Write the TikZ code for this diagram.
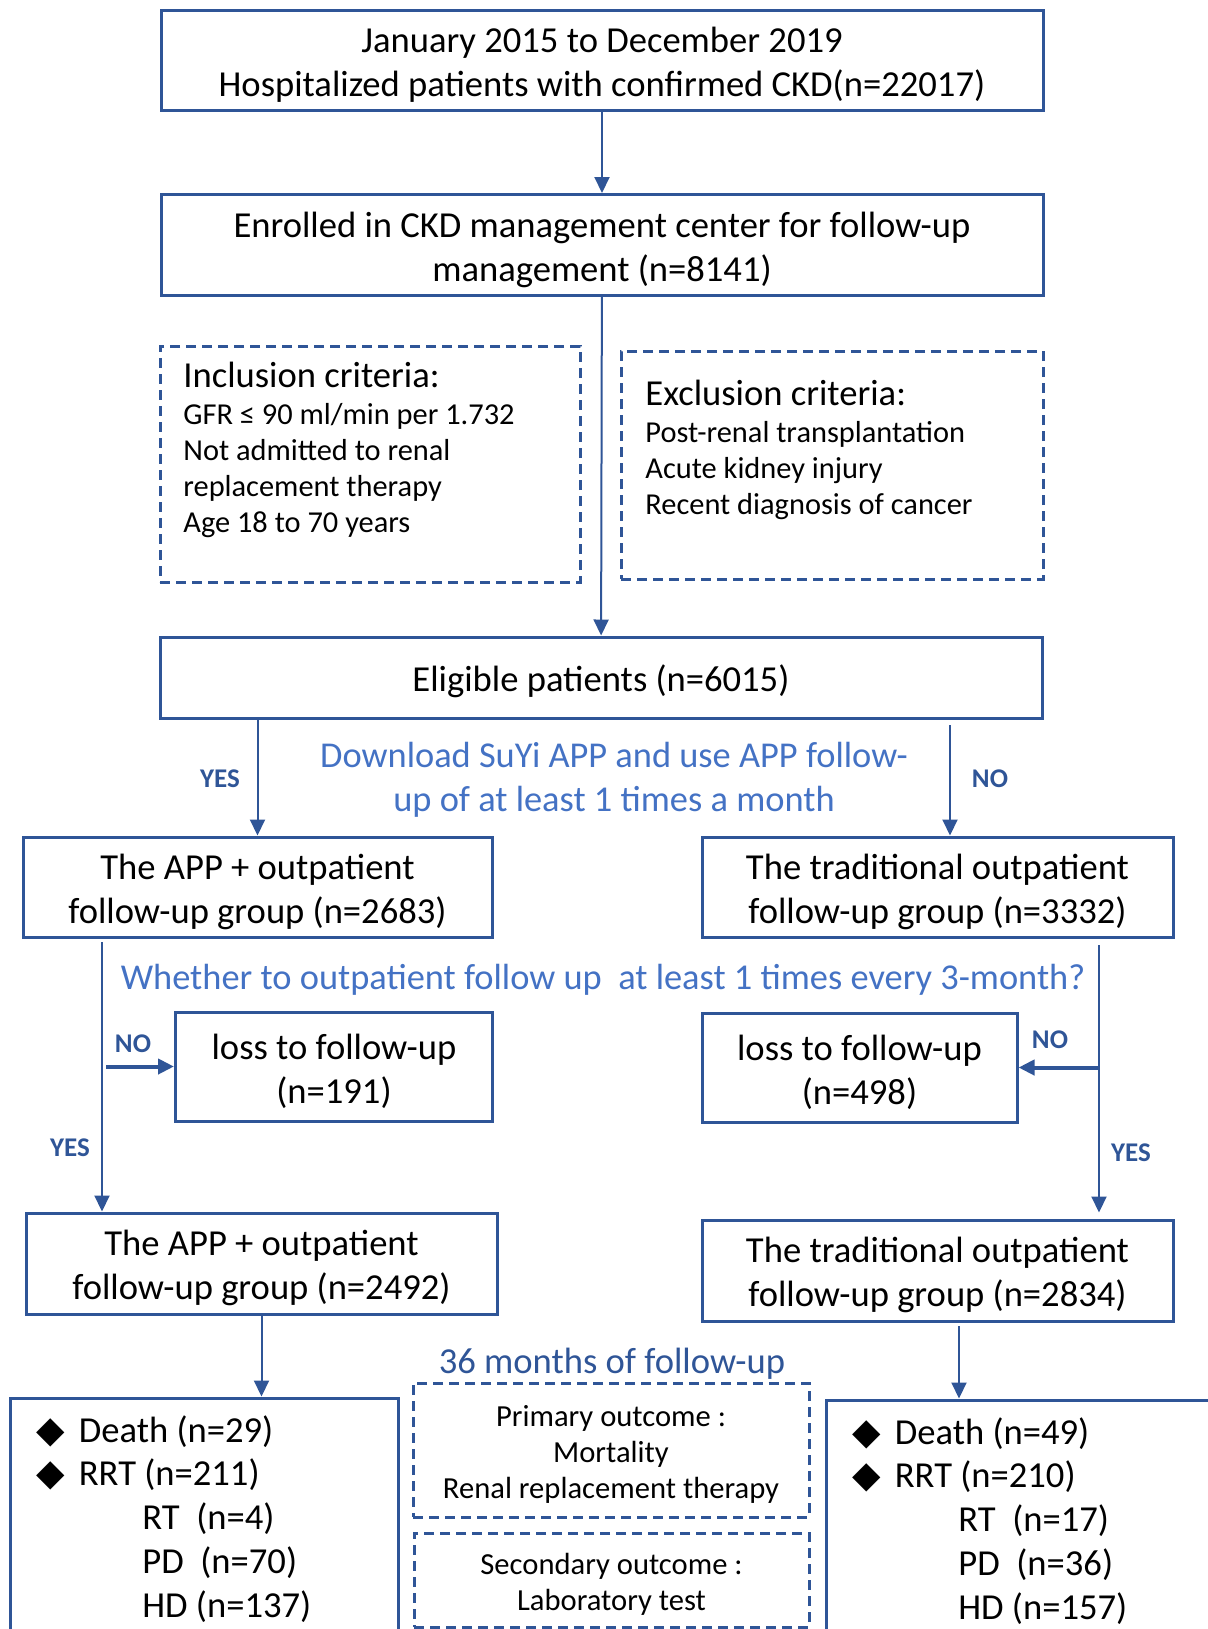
\documentclass[tikz,border=0pt]{standalone}
\usepackage{fontspec}
\setmainfont{Carlito}
\newfontfamily\symfont{DejaVu Sans}
\usetikzlibrary{arrows.meta,calc,positioning}
\definecolor{BoxBlue}{HTML}{2F5597}
\definecolor{AskBlue}{HTML}{4472C4}
\newcommand\boxfont{\fontsize{18.3}{22}\selectfont}
\newcommand\critfont{\fontsize{15.2}{18}\selectfont}
\newcommand\ynfont{\fontsize{13.5}{16}\selectfont\bfseries}
\newcommand\boxstrut{\rule{0pt}{17.5pt}}
\newcommand\dashstrut{\rule{0pt}{15pt}}
\newcommand\dmd{{\symfont\fontsize{18.5}{16}\selectfont ◆}\hspace{7pt}}
\tikzset{
  box/.style={draw=BoxBlue, line width=1.5pt, fill=white, align=center,
              inner sep=0pt, font=\boxfont},
  dashbox/.style={draw=BoxBlue, line width=1.5pt, dash pattern=on 5pt off 3pt,
              inner sep=0pt, align=center, font=\fontsize{15.3}{18}\selectfont},
  flow/.style={draw=BoxBlue, line width=1pt, -{Triangle[length=8pt,width=7.5pt]}},
  flowthick/.style={flow, line width=2pt},
  yn/.style={text=BoxBlue, font=\ynfont, inner sep=0pt},
  ask/.style={text=AskBlue, font=\fontsize{18.2}{22}\selectfont, align=center, inner sep=0pt},
  crittext/.style={font=\critfont, align=left, anchor=north west, inner sep=0pt},
  outtext/.style={font=\fontsize{18.3}{21.9}\selectfont, align=left, anchor=north west, inner sep=0pt},
}

\begin{document}
\begin{tikzpicture}[x=0.5pt, y=-0.5pt]
\useasboundingbox (0,0) rectangle (1208,1629);
\node[box, minimum width=441pt, minimum height=50pt] (top) at (602,60) {\boxstrut January 2015 to December 2019\\Hospitalized patients with confirmed CKD(n=22017)};
\node[box, minimum width=441pt, minimum height=50.5pt] (enrol) at (602,245) {\boxstrut Enrolled in CKD management center for follow-up\\management (n=8141)};
\node[dashbox, minimum width=210pt, minimum height=118pt] (incl) at (370,464) {};
\node[crittext] (incltxt) at (183,362) {{\boxfont Inclusion criteria:}\\[0.5pt] GFR ≤ 90 ml/min per 1.732\\Not admitted to renal\\replacement therapy\\Age 18 to 70 years};
\node[dashbox, minimum width=211pt, minimum height=114pt] (excl) at (832,465) {};
\node[crittext] (excltxt) at (645,380) {{\boxfont Exclusion criteria:}\\[0.5pt] Post-renal transplantation\\Acute kidney injury\\Recent diagnosis of cancer};
\node[box, minimum width=441pt, minimum height=40.5pt] (elig) at (601,677.5) {\boxstrut Eligible patients (n=6015)};
\node[ask] (ask1) at (614,780) {Download SuYi APP and use APP follow-\\up of at least 1 times a month};
\node[yn] (yes1) at (220,779) {YES};
\node[yn] (no1) at (990,779) {NO};
\node[box, minimum width=234.5pt, minimum height=50pt] (app1) at (257.5,887) {\boxstrut The APP + outpatient\\follow-up group (n=2683)};
\node[box, minimum width=235.5pt, minimum height=50pt] (trad1) at (937.5,887) {\boxstrut The traditional outpatient\\follow-up group (n=3332)};
\node[ask] (ask2) at (603,980) {Whether to outpatient follow up\ \ at least 1 times every 3-month?};
\node[box, minimum width=158.5pt, minimum height=54.5pt] (loss1) at (334,1066.5) {\boxstrut loss to follow-up\\(n=191)};
\node[box, minimum width=157.5pt, minimum height=54.5pt] (loss2) at (859.5,1067.5) {\boxstrut loss to follow-up\\(n=498)};
\node[yn] (no2) at (133,1044) {NO};
\node[yn] (yes2) at (70,1148) {YES};
\node[yn] (no3) at (1050,1040) {NO};
\node[yn] (yes3) at (1131,1153) {YES};
\node[box, minimum width=235.5pt, minimum height=50.5pt] (app2) at (261.5,1263.5) {\boxstrut The APP + outpatient\\follow-up group (n=2492)};
\node[box, minimum width=235.5pt, minimum height=50.5pt] (trad2) at (937.5,1270.5) {\boxstrut The traditional outpatient\\follow-up group (n=2834)};
\node[text=BoxBlue, font=\boxfont, inner sep=0pt] (months) at (612,1364) {36 months of follow-up};
\node[dashbox, minimum width=198pt, minimum height=67pt] (prim) at (611,1450) {\dashstrut Primary outcome :\\Mortality\\Renal replacement therapy};
\node[dashbox, minimum width=197.5pt, minimum height=47pt] (sec) at (611.5,1580) {\dashstrut Secondary outcome :\\Laboratory test};
\node[box, minimum width=194pt, minimum height=141pt] (outL) at (204,1539) {};
\node[outtext] (outLtxt) at (36,1415) {\dmd Death (n=29)\\\dmd RRT (n=211)\\\hspace*{53pt}RT\ \ (n=4)\\\hspace*{53pt}PD\ \ (n=70)\\\hspace*{53pt}HD (n=137)};
\node[box, minimum width=207pt, minimum height=140pt] (outR) at (1033,1540) {};
\node[outtext] (outRtxt) at (852,1417) {\dmd Death (n=49)\\\dmd RRT (n=210)\\\hspace*{53pt}RT\ \ (n=17)\\\hspace*{53pt}PD\ \ (n=36)\\\hspace*{53pt}HD (n=157)};
\coordinate (noTop) at (950,725);
\coordinate (leftTop) at (102,942);
\coordinate (rightTop) at (1099,945);
\coordinate (rightDown) at (959,1326);
\draw[flow] (top) -- (enrol);
\draw[flow] (enrol) -- (elig);
\draw[flow] (app1.north |- elig.south) -- (app1.north);
\draw[flow] (noTop) -- (noTop |- trad1.north);
\draw[flow] (leftTop) -- (leftTop |- app2.north);
\draw[flowthick] ($(leftTop |- loss1.west)+(4,0)$) -- (loss1.west);
\draw[flow] (rightTop) -- ($(rightTop |- trad2.north)+(0,-6)$);
\draw[flowthick] (rightTop |- loss2.east) -- (loss2.east);
\draw[flow] (app2) -- (app2.south |- outL.north);
\draw[flow] (rightDown) -- (rightDown |- outR.north);
\end{tikzpicture}
\end{document}
